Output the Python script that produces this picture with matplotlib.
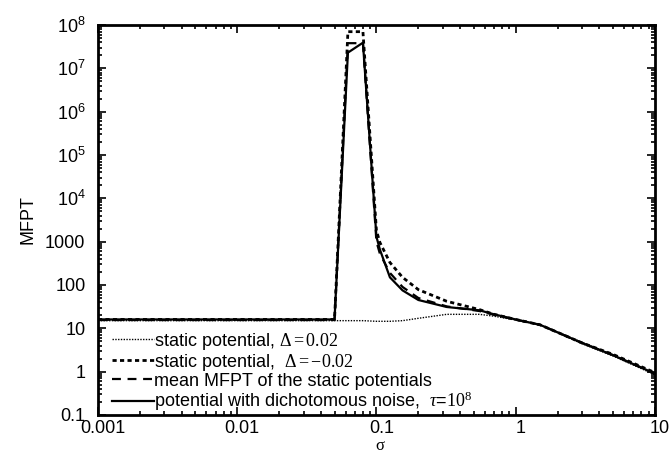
import numpy as np
import matplotlib
matplotlib.use("Agg")
import matplotlib.pyplot as plt
import matplotlib.transforms as mtransforms
from matplotlib.ticker import FixedLocator, FixedFormatter, LogLocator, NullFormatter

plt.rcParams['font.family'] = ['Liberation Sans', 'DejaVu Sans']
plt.rcParams['mathtext.fontset'] = 'custom'
plt.rcParams['mathtext.rm'] = 'Liberation Serif'
plt.rcParams['mathtext.it'] = 'Liberation Serif:italic'
plt.rcParams['mathtext.bf'] = 'Liberation Serif:bold'
plt.rcParams['mathtext.sf'] = 'Liberation Sans'

# sigma values where the curves were sampled
sigma = [0.001, 0.003, 0.01, 0.03, 0.05, 0.0624, 0.08, 0.1, 0.106, 0.125,
         0.154, 0.2, 0.32, 0.55, 0.7, 1.0, 1.5, 3.0, 5.0, 10.0]

# MFPT for each case
static_pos = [15, 15, 15, 15, 15, 15, 15, 14.5, 14.5, 14.5,
              15, 17, 21, 21, 19, 15.5, 12, 4.4, 2.3, 0.85]
static_neg = [16, 16, 16, 16, 16, 7e7, 7e7, 1800, 950, 330,
              150, 78, 42, 27, 21, 16, 12, 4.6, 2.5, 0.95]
mean_static = [15.5, 15.5, 15.5, 15.5, 15.5, 3.8e7, 3.8e7, 1000, 520, 190,
               90, 50, 32, 25, 20.5, 15.8, 12, 4.6, 2.4, 0.9]
dichotomous = [16, 16, 16, 16, 16, 2.3e7, 3.9e7, 1300, 650, 150,
               75, 45, 31, 26, 21, 16, 12, 4.6, 2.4, 0.9]

y_ticks = [0.1, 1, 10, 100, 1000, 1e4, 1e5, 1e6, 1e7, 1e8]
y_tick_labels = ['0.1', '1', '10', '100', '1000',
                 r'$\mathsf{10^{4}}$', r'$\mathsf{10^{5}}$', r'$\mathsf{10^{6}}$',
                 r'$\mathsf{10^{7}}$', r'$\mathsf{10^{8}}$']
x_ticks = [0.001, 0.01, 0.1, 1, 10]
x_tick_labels = ['0.001', '0.01', '0.1', '1', '10']

fig = plt.figure(figsize=(6.71, 4.54), dpi=100)
ax = fig.add_axes([0.146, 0.086, 0.83, 0.859])

ax.plot(sigma, static_pos, color='black', lw=1.0, linestyle=(0, (1, 1)),
        label=r'static potential, $\Delta = 0.02$')
ax.plot(sigma, static_neg, color='black', lw=2.0, linestyle=(0, (1.5, 1.2)),
        label=r'static potential,  $\Delta = -0.02$')
ax.plot(sigma, mean_static, color='black', lw=1.6, linestyle=(0, (4, 3)),
        label='mean MFPT of the static potentials')
ax.plot(sigma, dichotomous, color='black', lw=1.6,
        label=r'potential with dichotomous noise,  $\tau$=$10^{8}$')

ax.set_xscale('log')
ax.set_yscale('log')
ax.set_xlim(0.001, 10)
ax.set_ylim(0.1, 1e8)

ax.yaxis.set_major_locator(FixedLocator(y_ticks))
ax.yaxis.set_major_formatter(FixedFormatter(y_tick_labels))
ax.xaxis.set_major_locator(FixedLocator(x_ticks))
ax.xaxis.set_major_formatter(FixedFormatter(x_tick_labels))
ax.xaxis.set_minor_locator(LogLocator(base=10, subs=np.arange(2, 10)))
ax.yaxis.set_minor_locator(LogLocator(base=10, subs=np.arange(2, 10), numticks=20))
ax.xaxis.set_minor_formatter(NullFormatter())
ax.yaxis.set_minor_formatter(NullFormatter())

ax.tick_params(which='both', direction='in', top=True, right=True, width=1.2)
ax.tick_params(which='major', length=6, labelsize=13)
ax.tick_params(axis='y', which='major', pad=9)
ax.tick_params(axis='x', which='major', pad=3.5)
ax.tick_params(which='minor', length=3)
for s in ax.spines.values():
    s.set_linewidth(2)

# x tick labels sit a little right of their ticks
shift = mtransforms.ScaledTranslation(5 / 100, 0, fig.dpi_scale_trans)
for lab in ax.get_xticklabels():
    lab.set_transform(lab.get_transform() + shift)

# sigma label placed under the 0.1 tick
fig.text(380 / 671, 0.0, 'σ', fontsize=12, family='Liberation Serif',
         ha='center', va='bottom')
ax.set_ylabel('MFPT', fontsize=13)
ax.yaxis.set_label_coords(-0.111, 0.5)

ax.legend(loc='lower left', bbox_to_anchor=(0.022, 0.0), frameon=False,
          fontsize=13, handlelength=2.3, handletextpad=0.05,
          labelspacing=0.0, borderpad=0.1, borderaxespad=0)

fig.savefig('out.png', dpi=100)
